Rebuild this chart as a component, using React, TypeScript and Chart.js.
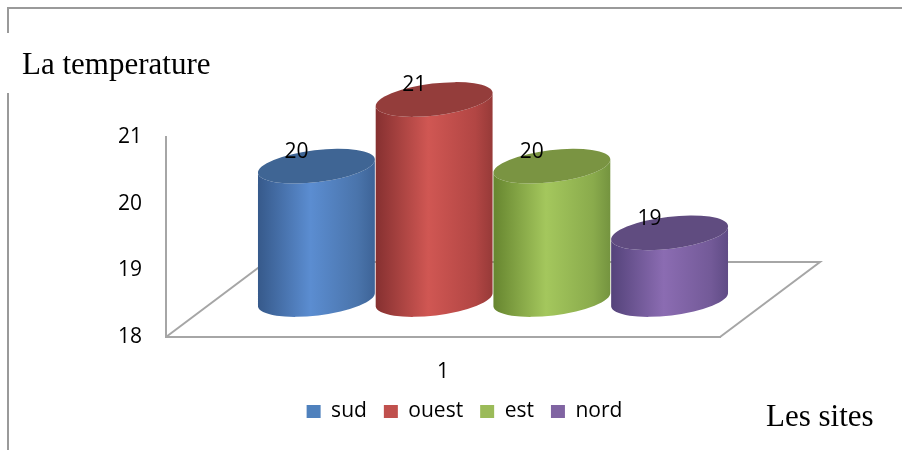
import React, { useEffect, useRef } from 'react';
import { Chart, registerables } from 'chart.js';
Chart.register(...registerables);

// ---- data ----
const categories = ['1'];
const seriesNames = ['sud', 'ouest', 'est', 'nord'];
const sudValues = [20];
const ouestValues = [21];
const estValues = [20];
const nordValues = [19];
const yMin = 18;
const yMax = 21;
const yTitle = 'La temperature';
const xTitle = 'Les sites';

// ---- styles ----
const legendColors = ['#4f81bd', '#c0504d', '#9bbb59', '#8064a2'];
const shades = [
  { dark: '#36598a', light: '#5b8dd1', mid: '#4a74ab', edge: '#3d6396', top: '#3f6594' },
  { dark: '#853030', light: '#d05753', mid: '#b24644', edge: '#963a38', top: '#943d3b' },
  { dark: '#66852f', light: '#a4c75d', mid: '#8aab4c', edge: '#74933f', top: '#7a9442' },
  { dark: '#54437a', light: '#8b6cb2', mid: '#735a98', edge: '#5f4b85', top: '#604c80' },
];
const AXIS = '#a6a6a6';
const DEPTH_X = 100;
const DEPTH_Y = -75;
const RY = 16;
const ROT = -0.12;
const SANS = '"Open Sans", "DejaVu Sans", sans-serif';
const SERIF = '"Liberation Serif", "Times New Roman", serif';
const FONT_SIZE = 21;

const cylinderPlugin = {
  id: 'cylinders',
  beforeDraw(chart: any) {
    const ctx = chart.ctx;
    ctx.save();
    ctx.fillStyle = '#ffffff';
    ctx.fillRect(0, 0, chart.width, chart.height);
    ctx.strokeStyle = '#9a9a9a';
    ctx.lineWidth = 2;
    ctx.beginPath();
    ctx.moveTo(8, 33);
    ctx.lineTo(8, 8);
    ctx.lineTo(chart.width, 8);
    ctx.moveTo(8, 93);
    ctx.lineTo(8, chart.height);
    ctx.stroke();
    ctx.fillStyle = '#000';
    ctx.font = `31px ${SERIF}`;
    ctx.textAlign = 'left';
    ctx.textBaseline = 'alphabetic';
    ctx.fillText(yTitle, 22, 74);
    ctx.fillText(xTitle, 766, 426);
    ctx.restore();
  },
  beforeDatasetsDraw(chart: any) {
    const ctx = chart.ctx;
    const { left, right, bottom } = chart.chartArea;
    const yScale = chart.scales.y;
    const floorPx = yScale.getPixelForValue(yMin);
    ctx.save();
    ctx.strokeStyle = AXIS;
    ctx.lineWidth = 2;
    ctx.beginPath();
    ctx.moveTo(left, bottom);
    ctx.lineTo(left + DEPTH_X, bottom + DEPTH_Y);
    ctx.lineTo(right + DEPTH_X, bottom + DEPTH_Y);
    ctx.lineTo(right, bottom);
    ctx.stroke();

    const dx = DEPTH_X / 2;
    const dy = DEPTH_Y / 2;
    const labels: any[] = [];
    chart.data.datasets.forEach((ds: any, i: number) => {
      const meta = chart.getDatasetMeta(i);
      const sh = shades[i];
      meta.data.forEach((bar: any, j: number) => {
        const p = bar.getProps(['x', 'y', 'width'], true);
        const cx = p.x + dx;
        const rx = p.width / 2;
        const yTop = p.y + dy;
        const yBase = floorPx + dy;
        const g = ctx.createLinearGradient(cx - rx, 0, cx + rx, 0);
        g.addColorStop(0, sh.dark);
        g.addColorStop(0.45, sh.light);
        g.addColorStop(0.85, sh.mid);
        g.addColorStop(1, sh.edge);
        ctx.beginPath();
        ctx.ellipse(cx, yTop, rx, RY, ROT, 0, Math.PI, false);
        ctx.ellipse(cx, yBase, rx, RY, ROT, Math.PI, 0, true);
        ctx.closePath();
        ctx.fillStyle = g;
        ctx.fill();
        ctx.beginPath();
        ctx.ellipse(cx, yTop, rx, RY, ROT, 0, Math.PI * 2);
        ctx.fillStyle = sh.top;
        ctx.fill();
        labels.push({ text: String(ds.data[j]), x: cx - 20, y: yTop - 14 });
      });
    });
    ctx.fillStyle = '#000';
    ctx.font = `${FONT_SIZE}px ${SANS}`;
    ctx.textAlign = 'center';
    ctx.textBaseline = 'middle';
    labels.forEach((l) => ctx.fillText(l.text, l.x, l.y));
    ctx.restore();
    return false;
  },
};

export default function App() {
  const ref = useRef<HTMLCanvasElement>(null);
  useEffect(() => {
    if (!ref.current) return;
    const values = [sudValues, ouestValues, estValues, nordValues];
    const chart = new Chart(ref.current, {
      type: 'bar',
      data: {
        labels: categories,
        datasets: seriesNames.map((name, i) => ({
          label: name,
          data: values[i],
          backgroundColor: legendColors[i],
          borderWidth: 0,
          yAxisID: 'y',
        })),
      },
      options: {
        animation: false,
        responsive: true,
        maintainAspectRatio: false,
        layout: { padding: { left: 27, right: 0, top: 137, bottom: 18 } },
        datasets: { bar: { categoryPercentage: 0.85, barPercentage: 1 } },
        plugins: {
          tooltip: { enabled: false },
          title: { display: false },
          legend: {
            display: true,
            position: 'bottom',
            labels: {
              boxWidth: 14,
              boxHeight: 13,
              padding: 17,
              color: '#000',
              font: { family: SANS, size: FONT_SIZE },
            },
          },
        },
        scales: {
          x: {
            grid: { display: false, drawTicks: false },
            border: { display: true, color: AXIS, width: 2 },
            ticks: { color: '#000', padding: 22, font: { family: SANS, size: FONT_SIZE } },
            afterFit: (s: any) => { s.height = 47; },
          },
          y: {
            position: 'left',
            min: yMin,
            max: yMax,
            grid: { display: false, drawTicks: false },
            border: { display: true, color: AXIS, width: 2 },
            ticks: { stepSize: 1, color: '#000', padding: 24, font: { family: SANS, size: FONT_SIZE } },
            afterFit: (s: any) => { s.width = 139; },
          },
          y2: {
            position: 'right',
            display: true,
            grid: { display: false, drawTicks: false },
            border: { display: false },
            ticks: { display: false },
            afterFit: (s: any) => { s.width = 182; },
          },
        },
      },
      plugins: [cylinderPlugin],
    });
    return () => chart.destroy();
  }, []);
  return (
    <div style={{ position: 'fixed', left: 0, top: 0, width: 902, height: 450, background: '#fff' }}>
      <canvas ref={ref} />
    </div>
  );
}
